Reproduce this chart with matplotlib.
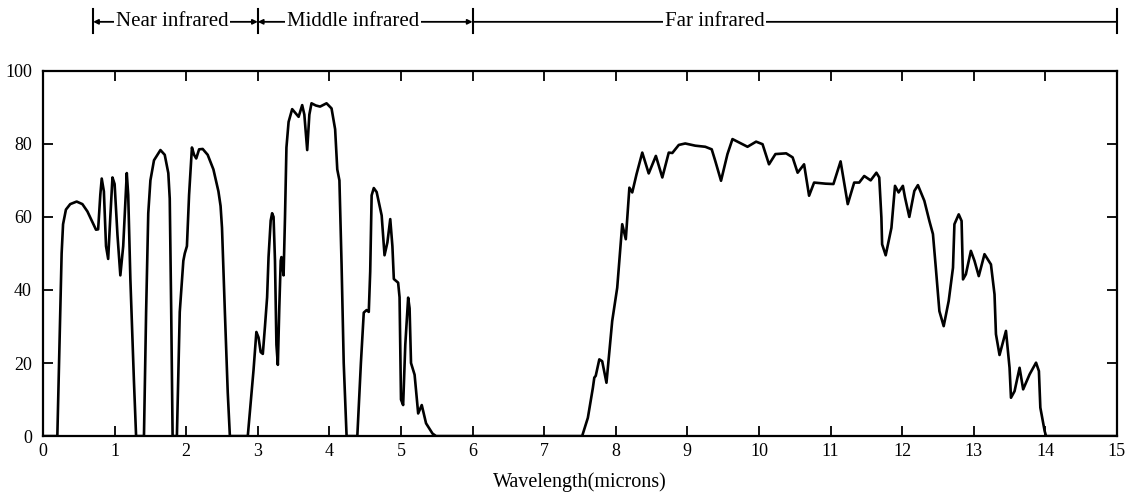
import matplotlib.pyplot as plt

plt.rcParams['font.family'] = ['Liberation Serif', 'DejaVu Serif']

# transmission curve of the atmosphere
wavelength = [
    0.00, 0.20, 0.23, 0.26, 0.28, 0.32, 0.38, 0.47, 0.55, 0.62, 0.68, 0.74,
    0.77, 0.80, 0.82, 0.85, 0.88, 0.91, 0.94, 0.97, 1.00, 1.04, 1.08, 1.12,
    1.17, 1.19, 1.22, 1.27, 1.30,
    1.41, 1.44, 1.47, 1.50, 1.55, 1.64, 1.70, 1.75, 1.77, 1.79, 1.81,
    1.87, 1.91, 1.96, 1.98, 2.01, 2.04, 2.08, 2.11, 2.14, 2.18, 2.23, 2.30,
    2.38, 2.45, 2.48, 2.50, 2.54, 2.58, 2.61,
    2.86, 2.94, 2.98, 3.01, 3.04, 3.07, 3.10, 3.13, 3.15, 3.18, 3.20, 3.22,
    3.24, 3.26, 3.28, 3.30, 3.32, 3.33, 3.36, 3.38, 3.40, 3.43, 3.48, 3.57,
    3.62, 3.65, 3.69, 3.72, 3.75, 3.81, 3.87, 3.96, 4.03, 4.08, 4.11, 4.14,
    4.17, 4.20, 4.24,
    4.39, 4.44, 4.48, 4.52, 4.55, 4.57, 4.59, 4.62, 4.66, 4.69, 4.73, 4.77,
    4.81, 4.85, 4.88, 4.90, 4.96, 4.98, 5.00, 5.03, 5.06, 5.10, 5.12, 5.14,
    5.19, 5.24, 5.29, 5.35, 5.44, 5.49,
    7.53, 7.61, 7.68, 7.70, 7.72, 7.77, 7.81, 7.87, 7.95, 8.02, 8.09, 8.14,
    8.19, 8.23, 8.29, 8.37, 8.46, 8.56, 8.65, 8.74, 8.79, 8.88, 8.97, 9.11,
    9.25, 9.34, 9.39, 9.47, 9.56, 9.63, 9.75, 9.84, 9.96, 10.05, 10.14, 10.23,
    10.38, 10.47, 10.54, 10.63, 10.70, 10.77, 10.93, 11.04, 11.14, 11.24,
    11.33, 11.40, 11.47, 11.56, 11.64, 11.68, 11.71, 11.72, 11.77, 11.85,
    11.90, 11.95, 12.01, 12.04, 12.10, 12.17, 12.22, 12.31, 12.38, 12.43,
    12.47, 12.52, 12.58, 12.65, 12.71, 12.73, 12.79, 12.83, 12.85, 12.89,
    12.96, 13.01, 13.07, 13.15, 13.24, 13.29, 13.31, 13.36, 13.45, 13.50,
    13.52, 13.57, 13.64, 13.69, 13.78, 13.87, 13.91, 13.93, 13.99, 14.01,
    15.00,
]
transmission = [
    0, 0, 25, 50, 58, 62, 63.5, 64.2, 63.5, 61.5, 59, 56.5,
    56.6, 66, 70.5, 67, 52, 48.5, 60, 70.8, 69, 55, 44, 52,
    72, 66, 43, 15, 0,
    0, 34, 61, 70, 75.5, 78.3, 77, 72, 65, 35, 0,
    0, 34, 48, 50, 52, 66, 79, 77, 76, 78.5, 78.6, 77,
    73, 67, 63, 57, 34, 12, 0,
    0, 18, 28.5, 27, 23, 22.5, 30, 38, 49, 59, 61, 60,
    48, 25, 19.5, 35, 48, 49, 44, 60, 79, 86, 89.5, 87.4,
    90.6, 88, 78.3, 88, 91.1, 90.5, 90.2, 91.1, 89.7, 84, 73, 70,
    47, 20, 0,
    0, 20, 33.8, 34.5, 34, 45, 65.9, 67.9, 66.8, 64, 60.4, 49.5,
    53, 59.4, 52, 43, 42, 38, 10, 8.5, 25, 37.9, 35, 20,
    16.8, 6.2, 8.5, 3.5, 0.7, 0,
    0, 5, 13.2, 16, 16.5, 21, 20.5, 14.6, 31.5, 40.6, 58, 53.9,
    68, 66.7, 71.7, 77.6, 71.9, 76.7, 70.8, 77.6, 77.5, 79.7, 80.1, 79.5,
    79.2, 78.5, 75.3, 69.9, 77.2, 81.3, 80.1, 79.2, 80.6, 79.9, 74.4, 77.2,
    77.4, 76.3, 72.1, 74.4, 65.8, 69.4, 69.1, 69, 75.2, 63.5,
    69.4, 69.4, 71.2, 70, 72.1, 70.8, 59.8, 52.5, 49.5, 57,
    68.5, 66.7, 68.5, 65.3, 60, 67.1, 68.7, 64.4, 58.9, 55.3,
    46.1, 34.2, 30.1, 37, 46.1, 58, 60.7, 58.9, 42.9, 44.3,
    50.7, 48, 43.8, 49.8, 47, 38.8, 27.9, 22.2, 28.8, 18.7,
    10.5, 12.3, 18.7, 12.8, 16.9, 20.1, 17.8, 7.8, 1.4, 0,
    0,
]

# spectral regions shown above the plot
region_names = ['Near infrared', 'Middle infrared', 'Far infrared']
region_edges = [0.7, 3.0, 6.0, 15.0]
region_centres = [1.8, 4.33, 9.38]

fig = plt.figure(figsize=(11.32, 4.95), dpi=100)
ax = fig.add_axes([0.038, 0.119, 0.9487, 0.738])

ax.plot(wavelength, transmission, color='black', lw=1.9, solid_joinstyle='round')

ax.set_xlim(0, 15)
ax.set_ylim(0, 100)
ax.set_xticks(range(0, 16))
ax.set_yticks(range(0, 101, 20))
ax.tick_params(direction='in', length=7, width=1.3, labelsize=13,
               top=True, right=True)
ax.tick_params(axis='y', pad=8)
ax.tick_params(axis='x', pad=5)
for s in ax.spines.values():
    s.set_linewidth(1.6)
ax.set_xlabel('Wavelength(microns)', fontsize=14.5, labelpad=9)

# header with region brackets
trans = ax.get_xaxis_transform()
yh = 1.134
for xe in region_edges:
    ax.plot([xe, xe], [1.104, 1.17], transform=trans, color='black',
            lw=1.5, clip_on=False)
styles = ['<|-|>', '<|-|>', '-']
for i in range(3):
    ax.annotate('', xy=(region_edges[i], yh), xytext=(region_edges[i + 1], yh),
                xycoords=trans, textcoords=trans, annotation_clip=False,
                arrowprops=dict(arrowstyle=styles[i], color='black', lw=1.3,
                                shrinkA=0, shrinkB=0, mutation_scale=7))
    ax.text(region_centres[i], yh, region_names[i], transform=trans,
            ha='center', va='center', fontsize=15,
            bbox=dict(facecolor='white', edgecolor='none', pad=1.0))

fig.savefig('out.png', dpi=100)
